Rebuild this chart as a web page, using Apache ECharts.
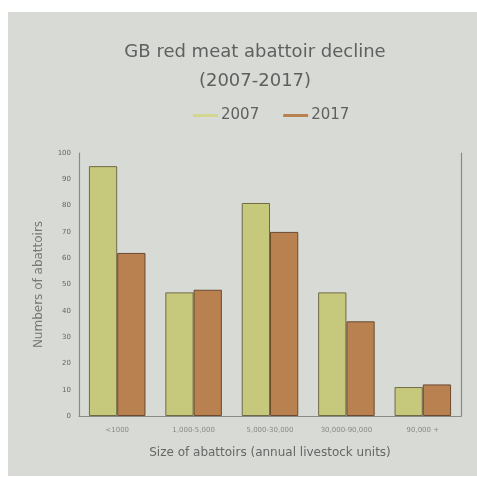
<!DOCTYPE html>
<html><head><meta charset="utf-8">
<script src="https://cdn.jsdelivr.net/npm/echarts@6/dist/echarts.min.js"></script>
<style>html,body{margin:0;padding:0;background:#fff}#c{width:477px;height:477px}</style>
</head><body><div id="c"></div>
<script>
const categories = ['<1000', '1,000-5,000', '5,000-30,000', '30,000-90,000', '90,000 +'];
const values2007 = [95, 47, 81, 47, 11];
const values2017 = [62, 48, 70, 36, 12];
const yTicks = [0, 10, 20, 30, 40, 50, 60, 70, 80, 90, 100];

const chart = echarts.init(document.getElementById('c'));
const font = 'DejaVu Sans';
chart.setOption({
  backgroundColor: '#ffffff',
  animation: false,
  graphic: [{ type: 'rect', z: -10, shape: { x: 8, y: 12, width: 469, height: 464 }, style: { fill: '#d8dbd5' } }],
  title: {
    text: 'GB red meat abattoir decline\n(2007-2017)',
    left: 250, textAlign: 'center', top: 33,
    textStyle: { fontFamily: font, fontWeight: 'normal', fontSize: 18, color: '#606060', lineHeight: 29 }
  },
  legend: {
    top: 103, left: 188,
    itemWidth: 25, itemHeight: 3, itemGap: 24, icon: 'rect',
    itemStyle: { borderWidth: 0 },
    textStyle: { fontFamily: font, fontSize: 15, color: '#606060', padding: [0, 0, 0, -2] },
    data: [
      { name: '2007', itemStyle: { color: '#d3d690', borderWidth: 0 } },
      { name: '2017', itemStyle: { color: '#b98050', borderWidth: 0 } }
    ]
  },
  grid: { left: 79, right: 16, top: 153, bottom: 61 },
  xAxis: {
    type: 'category', data: categories,
    name: 'Size of abattoirs (annual livestock units)', nameLocation: 'middle', nameGap: 31,
    nameTextStyle: { fontFamily: font, fontSize: 12, color: '#666' },
    axisLine: { lineStyle: { color: '#8a8a8a', width: 1.2 } },
    axisTick: { show: false },
    axisLabel: { fontFamily: font, fontSize: 7, color: '#888', margin: 11 }
  },
  yAxis: [{
    type: 'value', min: 0, max: 100, interval: 10,
    name: 'Numbers of abattoirs', nameLocation: 'middle', nameGap: 34, nameRotate: 90,
    nameTextStyle: { fontFamily: font, fontSize: 12, color: '#777' },
    axisLine: { show: true, lineStyle: { color: '#8a8a8a', width: 1.2 } },
    axisTick: { show: false }, splitLine: { show: false },
    axisLabel: { fontFamily: font, fontSize: 7, color: '#666', margin: 8,
      formatter: v => yTicks.includes(v) ? String(v) : '' }
  }, {
    type: 'value', min: 0, max: 100, interval: 10, position: 'right',
    axisLine: { show: true, lineStyle: { color: '#8a8a8a', width: 1.2 } },
    axisTick: { show: false }, axisLabel: { show: false }, splitLine: { show: false }
  }],
  series: [{
    name: '2007', type: 'bar', data: values2007, barGap: '0%', barCategoryGap: '26%',
    itemStyle: { color: '#c6c97c', borderColor: '#6d6a48', borderWidth: 1 }
  }, {
    name: '2017', type: 'bar', data: values2017,
    itemStyle: { color: '#b98050', borderColor: '#6b4a30', borderWidth: 1 }
  }]
});
</script></body></html>
